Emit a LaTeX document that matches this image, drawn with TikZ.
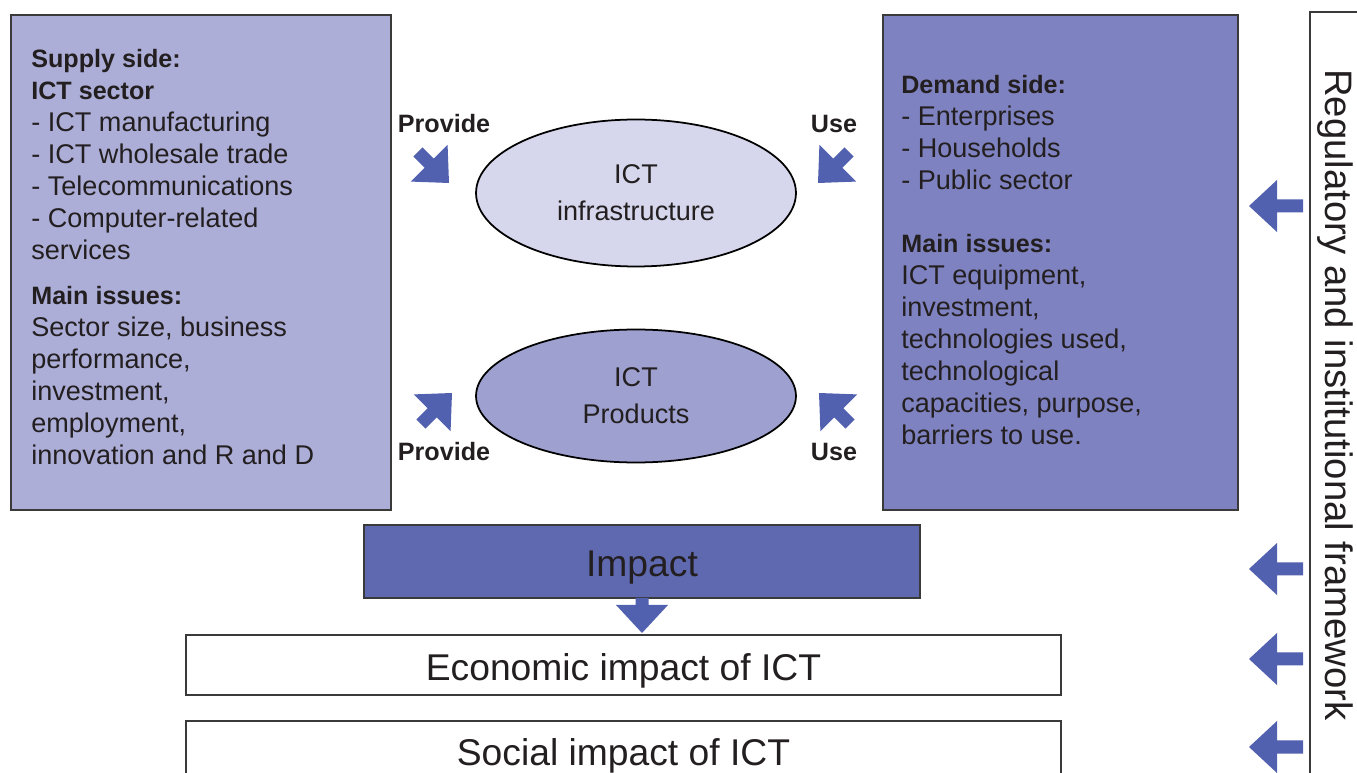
\documentclass[tikz,border=0pt]{standalone}
\usepackage{fontspec}
\setmainfont{Liberation Sans}
\usetikzlibrary{shapes.geometric}
\definecolor{supplyfill}{HTML}{ACAED8}
\definecolor{demandfill}{HTML}{7F82C0}
\definecolor{impactfill}{HTML}{5F69B0}
\definecolor{infrafill}{HTML}{D6D7EC}
\definecolor{prodfill}{HTML}{9EA0D0}
\definecolor{arrowblue}{HTML}{5260B0}
\definecolor{edgegray}{HTML}{3A3A3A}
\definecolor{ink}{HTML}{231F20}
\newcommand{\headtxt}[1]{{\fontsize{14.3}{18.3}\selectfont\bfseries #1}}
\tikzset{
  box/.style={rectangle, draw=edgegray, line width=1.1pt, inner sep=0pt},
  bodytext/.style={font=\fontsize{15.4}{18.3}\selectfont, text=ink, align=left, inner sep=0pt, anchor=base west},
  bigtext/.style={font=\fontsize{21.2}{25}\selectfont, text=ink, inner sep=0pt, anchor=base},
  lbl/.style={font=\fontsize{14.3}{17}\selectfont\bfseries, text=ink, inner sep=0pt},
  oval/.style={ellipse, draw=black, line width=1pt, inner sep=0pt, minimum width=6.4cm, align=center, font=\fontsize{15.4}{21}\selectfont, text=ink},
  pics/blockarrow/.style={code={\fill[arrowblue] (0,0) -- (-28,-26) -- (-28,-6.5) -- (-#1,-6.5) -- (-#1,6.5) -- (-28,6.5) -- (-28,26) -- cycle;}}
}
\begin{document}
\begin{tikzpicture}[x=0.02cm,y=-0.02cm]
\useasboundingbox (0,0) rectangle (1357,773);
\clip (0,0) rectangle (1357,773);
% main boxes
\node[box, fill=supplyfill, minimum width=7.6cm, minimum height=9.9cm] (supply) at (201,262.5) {};
\node[box, fill=demandfill, minimum width=7.1cm, minimum height=9.9cm] (demand) at (1060.5,262.5) {};
\node[box, fill=impactfill, minimum width=11.12cm, minimum height=1.46cm] (impact) at (642,561.5) {};
\node[box, fill=white, minimum width=17.5cm, minimum height=1.2cm] (econ) at (623.5,665) {};
\node[box, fill=white, minimum width=17.5cm, minimum height=1.24cm] (social) at (623.5,752) {};
\node[bigtext] (impacttext) at (642,576.5) {Impact};
\node[bigtext] (econtext) at (623.5,680.5) {Economic impact of ICT};
\node[bigtext] (socialtext) at (623.5,765.5) {Social impact of ICT};
\node[box, draw=edgegray, line width=0.9pt, minimum width=1.8cm, minimum height=15.76cm] (frame) at (1355,406) {};
\node[font=\fontsize{21.8}{25}\selectfont, text=ink, inner sep=0pt, rotate=-90] (frametext) at (1335,395) {Regulatory and institutional framework};
% ovals
\node[oval, fill=infrafill, minimum height=2.94cm] (infra) at (636,193) {ICT\\infrastructure};
\node[oval, fill=prodfill, minimum height=2.66cm] (prod) at (636,396) {ICT\\Products};
% supply text (anchored at the baseline of the last line)
\node[bodytext] (supplyhead) at (31,260) {\headtxt{Supply side:}\\\headtxt{ICT sector}\\- ICT manufacturing\\- ICT wholesale trade\\- Telecommunications\\- Computer-related\\services};
\node[bodytext] (supplyissues) at (31,465) {\headtxt{Main issues:}\\Sector size, business\\performance,\\investment,\\employment,\\innovation and R and D};
% demand text
\node[bodytext] (demandhead) at (901,190) {\headtxt{Demand side:}\\- Enterprises\\- Households\\- Public sector};
\node[bodytext] (demandissues) at (901,445) {\headtxt{Main issues:}\\ICT equipment,\\investment,\\technologies used,\\technological\\capacities, purpose,\\barriers to use.};
% labels
\node[lbl] (prov1) at (444,124) {Provide};
\node[lbl] (use1) at (834,124) {Use};
\node[lbl] (prov2) at (444,452) {Provide};
\node[lbl] (use2) at (834,452) {Use};
% block arrows
\pic[shift={(449,183)}, rotate=-45] {blockarrow=44};
\pic[shift={(818,183)}, rotate=-135] {blockarrow=44};
\pic[shift={(452,393)}, rotate=45] {blockarrow=44};
\pic[shift={(819,393)}, rotate=135] {blockarrow=44};
\pic[shift={(642,633)}, rotate=-90] {blockarrow=35};
\pic[shift={(1249,206)}, rotate=180] {blockarrow=54};
\pic[shift={(1249,569)}, rotate=180] {blockarrow=54};
\pic[shift={(1249,659)}, rotate=180] {blockarrow=54};
\pic[shift={(1249,747)}, rotate=180] {blockarrow=54};
\end{tikzpicture}
\end{document}
